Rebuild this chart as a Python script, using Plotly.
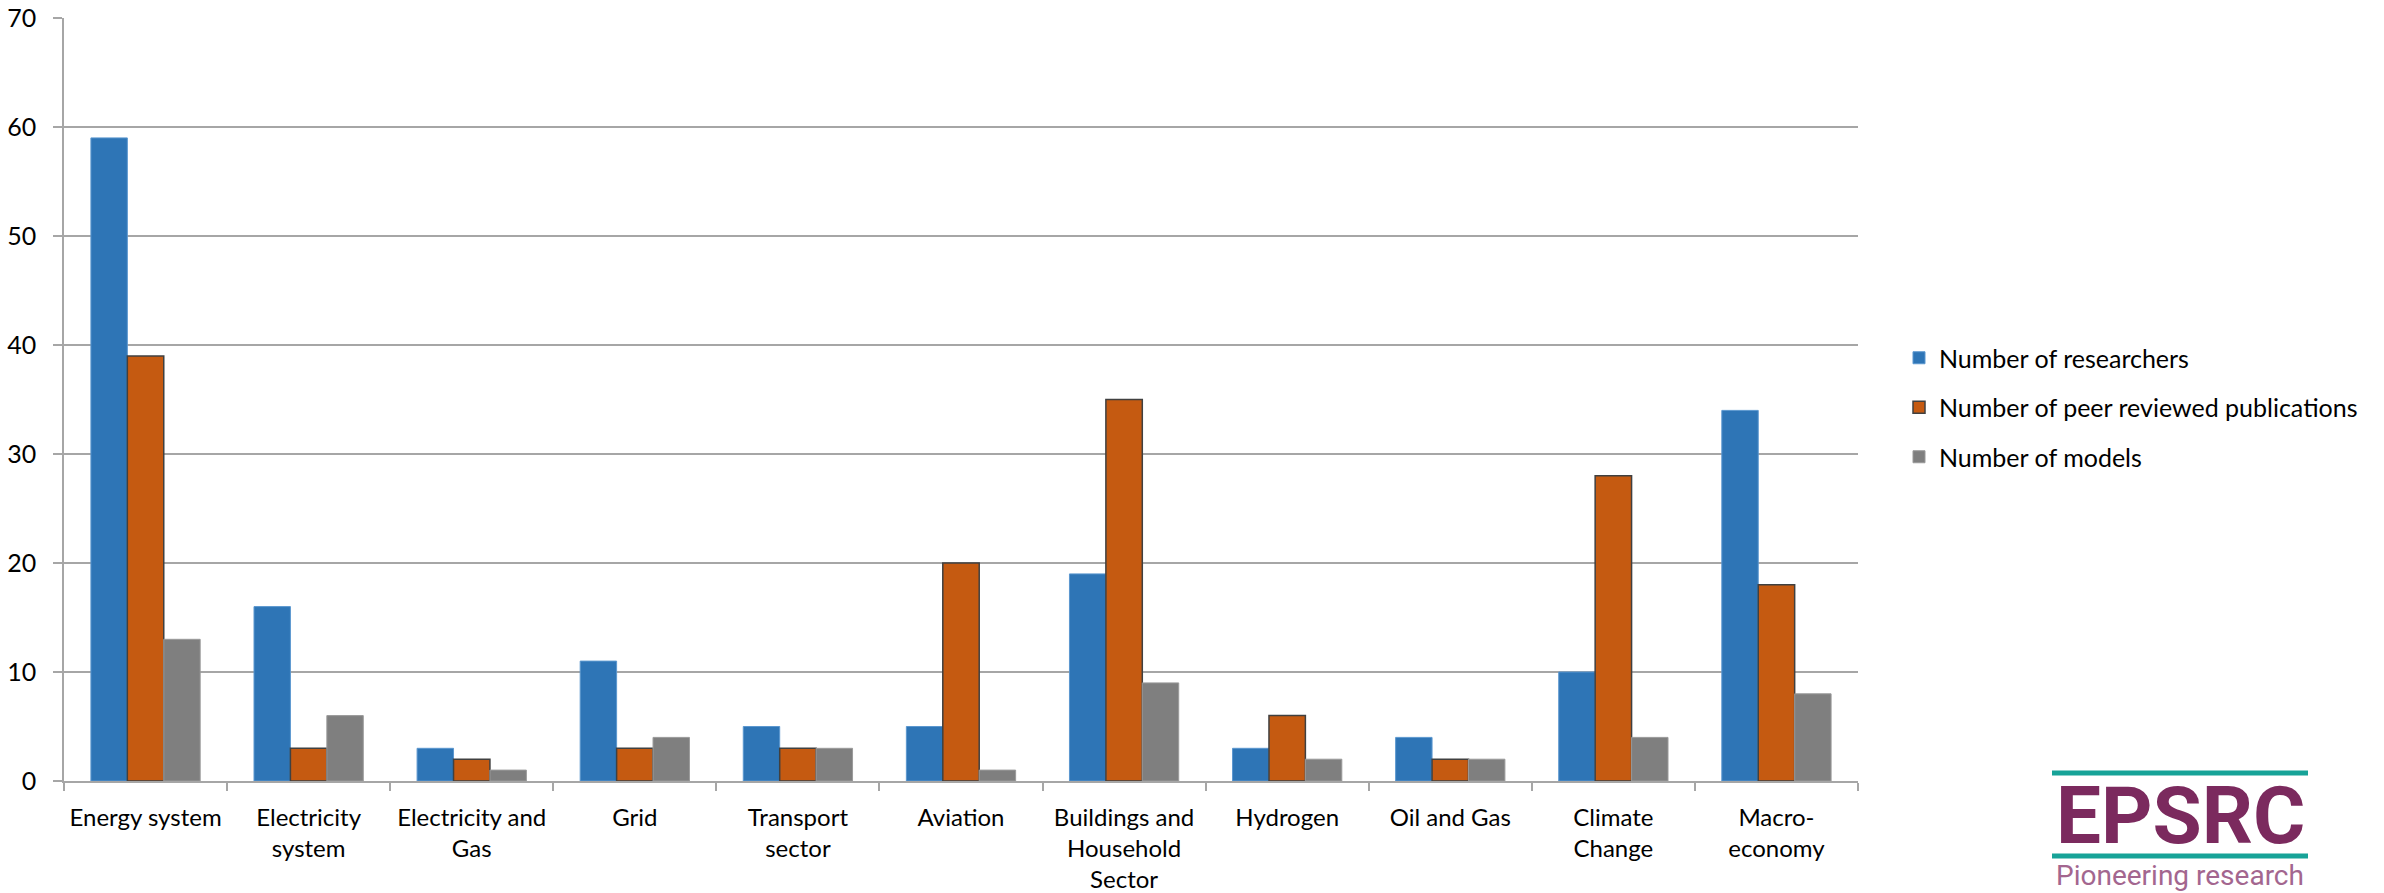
import plotly.graph_objects as go

# Research areas and counts per area
categories = [
    "Energy system", "Electricity<br>system", "Electricity and<br>Gas", "Grid",
    "Transport<br>sector", "Aviation", "Buildings and<br>Household<br>Sector",
    "Hydrogen", "Oil and Gas", "Climate<br>Change", "Macro-<br>economy",
]
researchers = [59, 16, 3, 11, 5, 5, 19, 3, 4, 10, 34]
publications = [39, 3, 2, 3, 3, 20, 35, 6, 2, 28, 18]
models = [13, 6, 1, 4, 3, 1, 9, 2, 2, 4, 8]

series_names = [
    "Number of researchers",
    "Number of peer reviewed publications",
    "Number of models",
]

W, H = 2384, 893
# plot area in pixels
L, R, T, B = 64, 1858, 18, 781
PW, PH = R - L, B - T


def px(x):
    return (x - L) / PW


def py(y):
    return (B - y) / PH


FONT = "Lato"
TXT = "#000000"

fig = go.Figure()
fig.add_trace(go.Bar(
    x=categories, y=researchers, name=series_names[0],
    marker=dict(color="#2E75B6", line=dict(color="#5B97CF", width=1)),
    legendgroup="a",
))
fig.add_trace(go.Bar(
    x=categories, y=publications, name=series_names[1],
    marker=dict(color="#C55A11", line=dict(color="#404040", width=1.5)),
    legendgroup="b",
))
fig.add_trace(go.Bar(
    x=categories, y=models, name=series_names[2],
    marker=dict(color="#7F7F7F", line=dict(color="#9A9A9A", width=1)),
    legendgroup="c",
))

fig.update_layout(
    width=W, height=H,
    margin=dict(l=L, r=W - R, t=T, b=H - B, autoexpand=False),
    paper_bgcolor="white", plot_bgcolor="white",
    barmode="group", bargap=0.33, bargroupgap=0,
    font=dict(family=FONT, size=24, color=TXT),
    showlegend=True,
    legend=dict(
        x=px(1899), y=py(335), xanchor="left", yanchor="top",
        font=dict(family=FONT, size=25, color=TXT),
        traceorder="grouped", tracegroupgap=14,
        bgcolor="rgba(0,0,0,0)",
    ),
)

fig.update_xaxes(
    type="category", automargin=False,
    showline=True, linecolor="#A6A6A6", linewidth=1.5,
    ticks="outside", tickson="boundaries", ticklen=8,
    tickcolor="#A6A6A6", tickwidth=1.5,
    showgrid=False,
    tickfont=dict(family=FONT, size=24, color=TXT),
    ticklabelstandoff=14,
)
fig.update_yaxes(
    range=[0, 70], dtick=10, automargin=False,
    showline=True, linecolor="#A6A6A6", linewidth=1.5,
    ticks="outside", ticklen=9, tickcolor="#A6A6A6", tickwidth=1.5,
    showgrid=True, gridcolor="#A6A6A6", gridwidth=1.5,
    zeroline=False,
    tickfont=dict(family=FONT, size=25, color=TXT),
    ticklabelstandoff=12,
)

# EPSRC logo in the lower right corner
teal = "#17A398"
purple = "#7B2A5E"
for yline in (773, 856):
    fig.add_shape(
        type="line", xref="paper", yref="paper",
        x0=px(2052), x1=px(2308), y0=py(yline), y1=py(yline),
        line=dict(color=teal, width=5),
    )
fig.add_annotation(
    text="<b>EPSRC</b>", xref="paper", yref="paper",
    x=px(2180), y=py(815.5), xanchor="center", yanchor="middle",
    showarrow=False, font=dict(family="Roboto", size=80, color=purple),
)
fig.add_annotation(
    text="Pioneering research", xref="paper", yref="paper",
    x=px(2180), y=py(857), xanchor="center", yanchor="top",
    showarrow=False, font=dict(family="Roboto", size=28, color="#A3668F"),
)

fig.write_html("out.html")
